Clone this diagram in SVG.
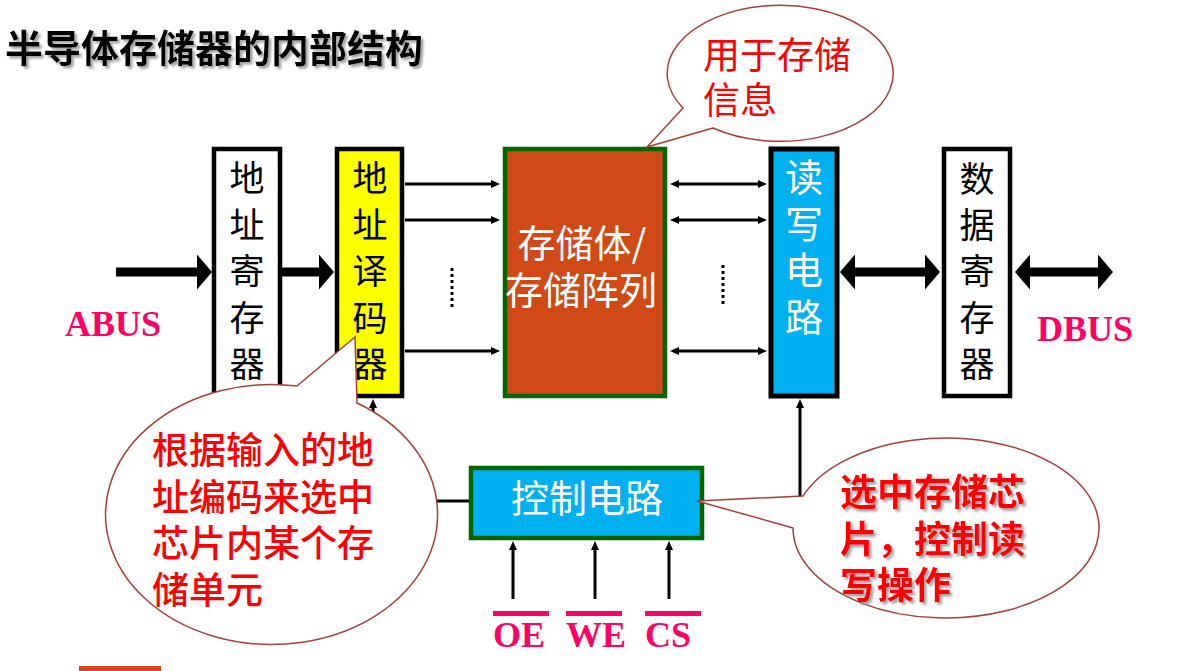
<svg xmlns="http://www.w3.org/2000/svg" width="1194" height="671" viewBox="0 0 1194 671">
<defs>
<style>
.cjk{font-family:"Noto Sans CJK SC","Noto Sans",sans-serif;}
.boxtxt{font-size:35px;fill:#000;text-anchor:middle;dominant-baseline:central;}
.wtxt{fill:#fff;text-anchor:middle;dominant-baseline:central;}
.lbl{font-family:"Liberation Serif",serif;font-weight:bold;font-size:36px;fill:#FF0066;}
.call{fill:#fff;stroke:#A0413B;stroke-width:1.5;}
.ctxt{font-size:37px;fill:#FF0000;dominant-baseline:central;}
.thin{stroke:#000;stroke-width:3;fill:none;}
.thick{stroke:#000;stroke-width:9;fill:none;}
</style>
<marker id="ah" markerUnits="userSpaceOnUse" markerWidth="9" markerHeight="8" refX="0" refY="4" orient="auto-start-reverse"><path d="M0,0 L9,4 L0,8 z" fill="#000"/></marker>
<marker id="bh" markerUnits="userSpaceOnUse" markerWidth="15" markerHeight="35" refX="0" refY="17.5" orient="auto-start-reverse"><path d="M0,0 L15,17.5 L0,35 z" fill="#000"/></marker>
<filter id="sh" x="-5%" y="-10%" width="115%" height="130%"><feDropShadow dx="2.5" dy="2.5" stdDeviation="1" flood-color="#999" flood-opacity="0.9"/></filter>
</defs>
<rect width="1194" height="671" fill="#fff"/>

<text class="cjk" x="5" y="45" font-size="38" font-weight="bold" dominant-baseline="central" filter="url(#sh)">半导体存储器的内部结构</text>

<g id="connectors">
<line class="thick" x1="116" y1="272" x2="197" y2="272" marker-end="url(#bh)"/>
<line class="thick" x1="282" y1="272" x2="319" y2="272" marker-end="url(#bh)"/>
<line class="thick" x1="855" y1="272" x2="925" y2="272" marker-start="url(#bh)" marker-end="url(#bh)"/>
<line class="thick" x1="1030" y1="272" x2="1098" y2="272" marker-start="url(#bh)" marker-end="url(#bh)"/>
<line class="thin" x1="405" y1="184" x2="491" y2="184" marker-end="url(#ah)"/>
<line class="thin" x1="405" y1="220" x2="491" y2="220" marker-end="url(#ah)"/>
<line class="thin" x1="405" y1="351" x2="491" y2="351" marker-end="url(#ah)"/>
<line class="thin" x1="679" y1="184" x2="758" y2="184" marker-start="url(#ah)" marker-end="url(#ah)"/>
<line class="thin" x1="679" y1="220" x2="758" y2="220" marker-start="url(#ah)" marker-end="url(#ah)"/>
<line class="thin" x1="679" y1="351" x2="758" y2="351" marker-start="url(#ah)" marker-end="url(#ah)"/>
<line x1="452" y1="268" x2="452" y2="308" stroke="#000" stroke-width="3" stroke-dasharray="3,3"/>
<line x1="723" y1="265" x2="723" y2="304" stroke="#000" stroke-width="3" stroke-dasharray="3,3"/>
<polyline class="thin" points="469,501 373,501 373,408" marker-end="url(#ah)"/>
<line class="thin" x1="800" y1="497" x2="800" y2="408" marker-end="url(#ah)"/>
<line class="thin" x1="513" y1="599" x2="513" y2="550" marker-end="url(#ah)"/>
<line class="thin" x1="595" y1="599" x2="595" y2="550" marker-end="url(#ah)"/>
<line class="thin" x1="669" y1="599" x2="669" y2="550" marker-end="url(#ah)"/>
</g>

<g id="addr-reg">
<rect x="214" y="149" width="66" height="247" fill="#fff" stroke="#000" stroke-width="4.5"/>
<text class="cjk boxtxt" x="247"><tspan x="247" y="175">地</tspan><tspan x="247" y="221.5">址</tspan><tspan x="247" y="268">寄</tspan><tspan x="247" y="314.5">存</tspan><tspan x="247" y="361">器</tspan></text>
</g>

<g id="decoder">
<rect x="337" y="149" width="65" height="247" fill="#FFFF00" stroke="#000" stroke-width="4.5"/>
<text class="cjk boxtxt" x="370"><tspan x="370" y="175">地</tspan><tspan x="370" y="221.5">址</tspan><tspan x="370" y="268">译</tspan><tspan x="370" y="314.5">码</tspan><tspan x="370" y="361">器</tspan></text>
</g>

<g id="storage">
<rect x="505" y="149" width="160" height="247" fill="#D04A18" stroke="#006600" stroke-width="4.5"/>
<text class="cjk wtxt" font-size="38"><tspan x="582" y="240">存储体/</tspan><tspan x="581" y="287">存储阵列</tspan></text>
</g>

<g id="rw">
<rect x="771" y="149" width="66" height="247" fill="#00B0F0" stroke="#000" stroke-width="5"/>
<text class="cjk wtxt" font-size="38"><tspan x="804" y="174">读</tspan><tspan x="804" y="220.5">写</tspan><tspan x="804" y="267">电</tspan><tspan x="804" y="313.5">路</tspan></text>
</g>

<g id="data-reg">
<rect x="944" y="149" width="66" height="247" fill="#fff" stroke="#000" stroke-width="4.5"/>
<text class="cjk boxtxt" x="977"><tspan x="977" y="176">数</tspan><tspan x="977" y="222">据</tspan><tspan x="977" y="268">寄</tspan><tspan x="977" y="314.5">存</tspan><tspan x="977" y="361">器</tspan></text>
</g>

<g id="control">
<rect x="471" y="468" width="231" height="70" fill="#00B0F0" stroke="#006600" stroke-width="4.5"/>
<text class="cjk wtxt" x="587" y="495" font-size="38">控制电路</text>
</g>

<g id="abus"><text class="lbl" x="65" y="336">ABUS</text></g>
<g id="dbus"><text class="lbl" x="1037" y="341">DBUS</text></g>

<g id="signals">
<rect x="493" y="611" width="56" height="5" fill="#FF0066"/>
<rect x="566" y="611" width="56" height="5" fill="#FF0066"/>
<rect x="645" y="611" width="56" height="5" fill="#FF0066"/>
<text class="lbl" x="493" y="647">OE</text>
<text class="lbl" x="566" y="647">WE</text>
<text class="lbl" x="645" y="647">CS</text>
</g>

<g id="callout-storage">
<path class="call" d="M713,128 L647,147 L683,108 A113,68 0 1 1 713,128 Z"/>
<text class="cjk ctxt"><tspan x="703" y="53">用于存储</tspan><tspan x="703" y="98">信息</tspan></text>
</g>

<g id="callout-decoder">
<path class="call" d="M357,403 L355,337 L297,386 A166,130 0 1 0 357,403 Z"/>
<text class="cjk ctxt" font-weight="500"><tspan x="152" y="448">根据输入的地</tspan><tspan x="152" y="494.5">址编码来选中</tspan><tspan x="152" y="541">芯片内某个存</tspan><tspan x="152" y="587.5">储单元</tspan></text>
</g>

<g id="callout-control">
<path class="call" d="M793,528 L697,501 L803,496 A153,90 0 1 1 793,528 Z"/>
<text class="cjk ctxt" font-weight="bold" filter="url(#sh)"><tspan x="840" y="490">选中存储芯</tspan><tspan x="840" y="537">片，控制读</tspan><tspan x="840" y="583">写操作</tspan></text>
</g>

<rect x="79" y="666" width="82" height="5" fill="#D04A18"/>
</svg>
